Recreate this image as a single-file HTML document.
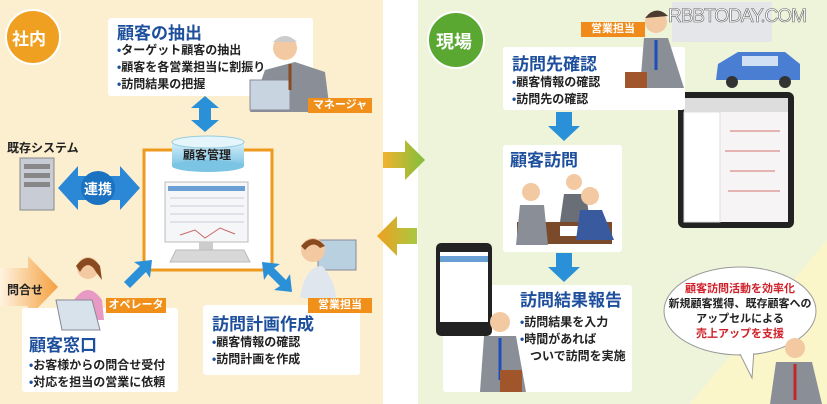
<!DOCTYPE html>
<html><head><meta charset="utf-8"><style>
*{margin:0;padding:0;box-sizing:border-box}
body{width:827px;height:404px;overflow:hidden;background:#fff;font-family:"Liberation Sans","Noto Sans CJK JP",sans-serif;position:relative}
.a{position:absolute}
.box{position:absolute;background:#fff;border-radius:3px}
.t{color:#1d4f9c;font-weight:bold;font-size:17px;white-space:nowrap;position:absolute;line-height:20px}
.b{color:#222;font-weight:bold;font-size:12px;white-space:nowrap;position:absolute;line-height:17px}
.b span{color:#1d4f9c}
.lab{position:absolute;background:#f0901a;color:#fff;font-size:11px;font-weight:bold;text-align:center;line-height:15px;height:15px}
</style></head><body>
<div class="a" style="left:0;top:0;width:383px;height:404px;background:#fcefd0"></div>
<div class="a" style="left:418px;top:0;width:409px;height:404px;background:#eef4da"></div>
<svg class="a" style="left:0;top:0" width="827" height="404">
<polygon points="827,240 827,404 690,404" fill="#fbf6c9"/>
<defs><linearGradient id="g1" x1="0" x2="1"><stop offset="0" stop-color="#f2b330"/><stop offset="1" stop-color="#7fbf3a"/></linearGradient>
<linearGradient id="g2" x1="0" x2="1"><stop offset="0" stop-color="#f0a020"/><stop offset="1" stop-color="#a8c840"/></linearGradient>
<linearGradient id="g3" x1="0" x2="1"><stop offset="0" stop-color="#fff4e0"/><stop offset="1" stop-color="#f4a040"/></linearGradient>
<linearGradient id="cy" x1="0" y1="0" x2="0" y2="1"><stop offset="0" stop-color="#d6f0fa"/><stop offset="1" stop-color="#7cc4e4"/></linearGradient></defs>
<polygon points="383,152 405,152 405,140 425,160 405,180 405,168 383,168" fill="url(#g1)"/>
<polygon points="417,228 397,228 397,216 377,236 397,256 397,244 417,244" fill="url(#g2)"/>
<polygon points="0,268 28,268 28,256 58,287 28,318 28,306 0,306" fill="url(#g3)"/>
<circle cx="33" cy="37" r="27" fill="#f0a020" stroke="#fff" stroke-width="2"/>
<circle cx="456" cy="40" r="28" fill="#5aa832" stroke="#fff" stroke-width="2"/>
<rect x="144" y="150" width="128" height="120" fill="#fff" stroke="#ee9a1e" stroke-width="3"/>
<rect x="165" y="182" width="83" height="60" fill="#f4f6f8" stroke="#bbb"/>
<rect x="168" y="186" width="77" height="5" fill="#6a9fd6"/>
<g stroke="#ccd" stroke-width="1"><line x1="170" y1="198" x2="244" y2="198"/><line x1="170" y1="206" x2="244" y2="206"/><line x1="170" y1="214" x2="244" y2="214"/><line x1="170" y1="222" x2="244" y2="222"/></g>
<polyline points="180,235 195,230 205,238 220,228 235,234" fill="none" stroke="#c66"/>
<rect x="199" y="242" width="14" height="8" fill="#ccc"/>
<polygon points="170,262 250,262 244,250 176,250" fill="#d8d8d8" stroke="#bbb"/>
<rect x="172" y="142" width="72" height="24" fill="url(#cy)"/>
<ellipse cx="208" cy="166" rx="36" ry="6" fill="#7cc4e4"/>
<ellipse cx="208" cy="142" rx="36" ry="6" fill="#e4f6fc" stroke="#9cd"/>
<polygon points="205,96 219,108 211,108 211,120 219,120 205,132 191,120 199,120 199,108 191,108" fill="#2a90d8"/>
<polygon points="58,188 78,166 78,176 120,176 120,166 140,188 120,210 120,200 78,200 78,210" fill="#2a88d6"/>
<circle cx="98" cy="188" r="17" fill="#1a72c0"/>
<rect x="20" y="158" width="34" height="52" fill="#c8ccd4" stroke="#888"/>
<rect x="24" y="164" width="26" height="5" fill="#888"/><rect x="24" y="173" width="26" height="5" fill="#888"/><rect x="24" y="182" width="26" height="5" fill="#888"/>
<polygon points="124,282 140,266 134,262 152,260 150,278 146,272 130,288" fill="#2a90d8"/>
<polygon points="262,262 280,264 274,268 286,280 290,274 292,292 274,290 280,286 268,274 264,280" fill="#2a90d8"/>
<polygon points="556,112 572,112 572,126 580,126 564,141 548,126 556,126" fill="#2a90d8"/>
<polygon points="556,253 572,253 572,267 580,267 564,282 548,267 556,267" fill="#2a90d8"/>
<ellipse cx="740" cy="311" rx="76" ry="44" fill="#fff" stroke="#999"/>
<polygon points="738,350 754,350 752,378" fill="#fff" stroke="#999"/>
<ellipse cx="740" cy="311" rx="75" ry="43" fill="#fff"/>
<rect x="672" y="2" width="100" height="40" fill="#e2e2ee" opacity=".8"/>
<path d="M716,80 L718,64 L738,52 L785,52 L800,64 L800,80 Z" fill="#4a7ed2"/>
<circle cx="732" cy="82" r="6" fill="#333"/><circle cx="785" cy="82" r="6" fill="#333"/>
<rect x="742" y="56" width="36" height="10" fill="#cfe0f4"/>
<rect x="678" y="92" width="116" height="136" rx="6" fill="#222"/>
<rect x="684" y="98" width="104" height="124" fill="#f6f4f4"/>
<rect x="684" y="98" width="104" height="14" fill="#ddd"/>
<rect x="684" y="112" width="36" height="110" fill="#fff" stroke="#ddd"/>
<g fill="#d88" opacity=".6"><rect x="730" y="130" width="50" height="2"/><rect x="725" y="150" width="55" height="2"/><rect x="730" y="170" width="45" height="2"/><rect x="728" y="190" width="52" height="2"/></g>
</svg>

<div class="a" style="left:12px;top:25px;color:#fff;font-weight:bold;font-size:17px">社内</div>
<div class="a" style="left:436px;top:28px;color:#fff;font-weight:bold;font-size:18px">現場</div>

<div class="box" style="left:108px;top:18px;width:205px;height:78px"></div>
<div class="t" style="left:117px;top:24px">顧客の抽出</div>
<div class="b" style="left:117px;top:42px"><span>•</span>ターゲット顧客の抽出<br><span>•</span>顧客を各営業担当に割振り<br><span>•</span>訪問結果の把握</div>

<div class="a" style="left:183px;top:146px;font-size:12px;font-weight:bold;color:#222">顧客管理</div>
<div class="a" style="left:7px;top:139px;font-size:12px;font-weight:bold;color:#222">既存システム</div>
<div class="a" style="left:84px;top:179px;font-size:14px;font-weight:bold;color:#fff">連携</div>
<div class="a" style="left:7px;top:281px;font-size:12px;font-weight:bold;color:#222">問合せ</div>

<div class="box" style="left:22px;top:308px;width:156px;height:84px"></div>
<div class="t" style="left:29px;top:336px">顧客窓口</div>
<div class="b" style="left:29px;top:357px"><span>•</span>お客様からの問合せ受付<br><span>•</span>対応を担当の営業に依頼</div>

<div class="box" style="left:203px;top:305px;width:157px;height:70px"></div>
<div class="t" style="left:212px;top:315px">訪問計画作成</div>
<div class="b" style="left:212px;top:334px"><span>•</span>顧客情報の確認<br><span>•</span>訪問計画を作成</div>

<div class="box" style="left:503px;top:47px;width:182px;height:63px"></div>
<div class="t" style="left:512px;top:55px">訪問先確認</div>
<div class="b" style="left:512px;top:74px"><span>•</span>顧客情報の確認<br><span>•</span>訪問先の確認</div>

<div class="box" style="left:503px;top:145px;width:119px;height:107px"></div>
<div class="t" style="left:510px;top:151px">顧客訪問</div>

<div class="box" style="left:443px;top:285px;width:189px;height:107px"></div>
<div class="t" style="left:520px;top:291px">訪問結果報告</div>
<div class="b" style="left:520px;top:314px"><span>•</span>訪問結果を入力<br><span>•</span>時間があれば<br>&nbsp;&nbsp;&nbsp;ついで訪問を実施</div>

<svg class="a" style="left:0;top:0" width="827" height="404">
<path d="M250,112 L330,112 L325,72 L295,62 L265,70 Z" fill="#8a8e96"/>
<rect x="250" y="80" width="40" height="30" fill="#c8d4e0" stroke="#889"/>
<circle cx="285" cy="48" r="12" fill="#f3c9a2"/><path d="M273,42 Q285,30 297,42" fill="#ccc"/>
<line x1="290" y1="64" x2="290" y2="90" stroke="#8a4a20" stroke-width="3"/>
<circle cx="88" cy="268" r="11" fill="#f3c9a2"/><path d="M76,266 Q88,250 100,266 L102,280 L96,272 Q88,258 80,272 Z" fill="#8a4a20"/>
<path d="M74,300 Q88,280 102,300 L104,320 L72,320 Z" fill="#e79ac4"/>
<polygon points="56,300 92,300 100,330 62,330" fill="#d8e2ea" stroke="#889"/>
<rect x="318" y="240" width="38" height="30" fill="#b8d0e0" stroke="#889"/>
<circle cx="313" cy="250" r="12" fill="#f3c9a2"/><path d="M301,246 Q313,232 325,246 L320,248 Q313,240 305,250Z" fill="#8a4a20"/>
<path d="M300,298 Q305,266 322,266 Q335,280 336,298 Z" fill="#e0e6ee"/>
<circle cx="656" cy="22" r="11" fill="#f3c9a2"/><path d="M645,18 Q656,4 668,16" fill="#4a3a30"/>
<path d="M640,88 L644,38 L668,38 L684,88 Z" fill="#8a8e96"/><line x1="656" y1="40" x2="656" y2="70" stroke="#1d4fbc" stroke-width="3"/>
<rect x="625" y="72" width="22" height="16" fill="#a0552a"/>
<rect x="517" y="222" width="95" height="22" fill="#7a4a2a"/>
<rect x="560" y="226" width="24" height="10" fill="#fff"/>
<circle cx="531" cy="192" r="9" fill="#f3c9a2"/><path d="M516,245 L520,205 L544,205 L548,245Z" fill="#8a8e96"/>
<circle cx="574" cy="182" r="8" fill="#f3c9a2"/><path d="M560,222 L564,194 L586,194 L590,222Z" fill="#6a6e76"/>
<circle cx="590" cy="196" r="9" fill="#f3c9a2"/><path d="M576,240 L580,210 L602,210 L614,240Z" fill="#3a5aa0"/>
<rect x="436" y="243" width="56" height="93" rx="5" fill="#222"/>
<rect x="440" y="252" width="48" height="70" fill="#fff"/>
<rect x="440" y="256" width="48" height="6" fill="#6a9fd6"/>
<circle cx="500" cy="322" r="10" fill="#f3c9a2"/><path d="M480,392 L484,336 L516,336 L526,392Z" fill="#8a8e96"/>
<line x1="500" y1="338" x2="500" y2="380" stroke="#1d4fbc" stroke-width="3"/>
<rect x="500" y="370" width="22" height="22" fill="#a0552a"/>
<circle cx="795" cy="348" r="10" fill="#f3c9a2"/><path d="M770,404 L776,362 L812,362 L822,404Z" fill="#8a8e96"/>
<line x1="795" y1="364" x2="795" y2="400" stroke="#c0282a" stroke-width="3"/>
</svg>

<div class="lab" style="left:308px;top:98px;width:64px">マネージャ</div>
<div class="lab" style="left:106px;top:298px;width:60px">オペレータ</div>
<div class="lab" style="left:308px;top:298px;width:64px">営業担当</div>
<div class="lab" style="left:581px;top:22px;width:64px;background:#f08a1a">営業担当</div>

<div class="a" style="left:665px;top:282px;width:150px;text-align:center;font-size:11px;font-weight:bold;line-height:15px;color:#222;white-space:nowrap"><span style="color:#d0202a">顧客訪問活動を効率化</span><br>新規顧客獲得、既存顧客への<br>アップセルによる<br><span style="color:#d0202a">売上アップを支援</span></div>

<div class="a" style="left:668px;top:6px;font-size:19px;color:#fff;letter-spacing:-1px;-webkit-text-stroke:0.6px #666">RBBTODAY.COM</div>
</body></html>
